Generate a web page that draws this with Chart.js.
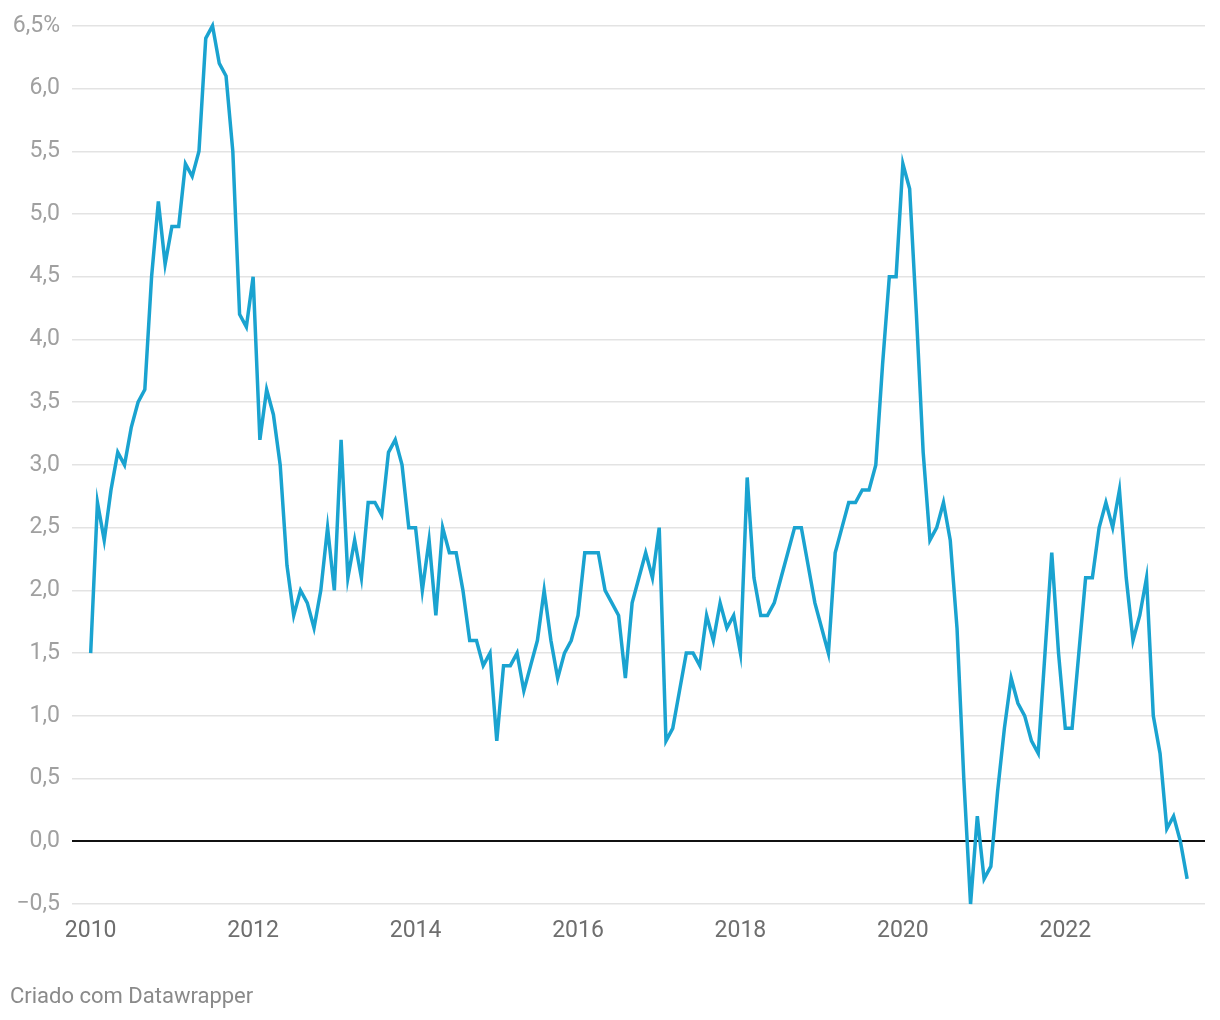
<!DOCTYPE html>
<html lang="pt">
<head>
  <meta charset="UTF-8" />
  <title>Inflação</title>
  <style>
    body { margin: 0; background: #fff; font-family: Roboto, sans-serif; }
    #wrap { position: relative; width: 1220px; height: 1020px; }
    #footer {
      position: absolute; left: 10px; top: 983px; line-height: 26px;
      color: #8a8a8a; font-size: 22px; font-family: Roboto, sans-serif;
    }
  </style>
</head>
<body>
  <div id="wrap">
    <canvas id="chart" width="1220" height="1020"></canvas>
    <div id="footer">Criado com Datawrapper</div>
  </div>

  <script src="https://cdn.jsdelivr.net/npm/chart.js"></script>
  <script>
    // série mensal, a partir de jan/2010
    const startYear = 2010;
    const v2010 = [1.5, 2.7, 2.4, 2.8, 3.1, 3.0, 3.3, 3.5, 3.6, 4.5, 5.1, 4.6];
    const v2011 = [4.9, 4.9, 5.4, 5.3, 5.5, 6.4, 6.5, 6.2, 6.1, 5.5, 4.2, 4.1];
    const v2012 = [4.5, 3.2, 3.6, 3.4, 3.0, 2.2, 1.8, 2.0, 1.9, 1.7, 2.0, 2.5];
    const v2013 = [2.0, 3.2, 2.1, 2.4, 2.1, 2.7, 2.7, 2.6, 3.1, 3.2, 3.0, 2.5];
    const v2014 = [2.5, 2.0, 2.4, 1.8, 2.5, 2.3, 2.3, 2.0, 1.6, 1.6, 1.4, 1.5];
    const v2015 = [0.8, 1.4, 1.4, 1.5, 1.2, 1.4, 1.6, 2.0, 1.6, 1.3, 1.5, 1.6];
    const v2016 = [1.8, 2.3, 2.3, 2.3, 2.0, 1.9, 1.8, 1.3, 1.9, 2.1, 2.3, 2.1];
    const v2017 = [2.5, 0.8, 0.9, 1.2, 1.5, 1.5, 1.4, 1.8, 1.6, 1.9, 1.7, 1.8];
    const v2018 = [1.5, 2.9, 2.1, 1.8, 1.8, 1.9, 2.1, 2.3, 2.5, 2.5, 2.2, 1.9];
    const v2019 = [1.7, 1.5, 2.3, 2.5, 2.7, 2.7, 2.8, 2.8, 3.0, 3.8, 4.5, 4.5];
    const v2020 = [5.4, 5.2, 4.2, 3.1, 2.4, 2.5, 2.7, 2.4, 1.7, 0.5, -0.5, 0.2];
    const v2021 = [-0.3, -0.2, 0.4, 0.9, 1.3, 1.1, 1.0, 0.8, 0.7, 1.5, 2.3, 1.5];
    const v2022 = [0.9, 0.9, 1.5, 2.1, 2.1, 2.5, 2.7, 2.5, 2.8, 2.1, 1.6, 1.8];
    const v2023 = [2.1, 1.0, 0.7, 0.1, 0.2, 0.0, -0.3];

    const xTicks = [2010, 2012, 2014, 2016, 2018, 2020, 2022];
    const yTicks = [-0.5, 0, 0.5, 1, 1.5, 2, 2.5, 3, 3.5, 4, 4.5, 5, 5.5, 6, 6.5];

    const values = [].concat(v2010, v2011, v2012, v2013, v2014, v2015, v2016,
                             v2017, v2018, v2019, v2020, v2021, v2022, v2023);
    const points = values.map((v, i) => ({ x: startYear + i / 12, y: v }));

    const ctx = document.getElementById('chart').getContext('2d');
    new Chart(ctx, {
      type: 'line',
      data: {
        datasets: [{
          data: points,
          borderColor: '#1aa3d0',
          borderWidth: 3.5,
          pointRadius: 0,
          tension: 0,
          clip: false
        }]
      },
      options: {
        responsive: false,
        animation: false,
        layout: { padding: { top: 24, right: 15, bottom: 76, left: 0 } },
        plugins: { legend: { display: false }, tooltip: { enabled: false } },
        scales: {
          x: {
            type: 'linear',
            min: 2009.77,
            max: 2023.72,
            afterBuildTicks: s => { s.ticks = xTicks.map(v => ({ value: v })); },
            afterFit: s => { s.height = 40; },
            grid: { display: false },
            border: { display: false },
            ticks: {
              padding: 5,
              color: '#6e6e6e',
              font: { family: 'Roboto', size: 23 },
              callback: v => String(v)
            }
          },
          y: {
            min: -0.5,
            max: 6.5,
            afterBuildTicks: s => { s.ticks = yTicks.map(v => ({ value: v })); },
            afterFit: s => { s.width = 72; },
            border: { display: false },
            grid: {
              drawTicks: false,
              color: c => c.tick.value === 0 ? '#111' : '#e3e3e3',
              lineWidth: c => c.tick.value === 0 ? 2 : 1.5
            },
            ticks: {
              padding: 12,
              color: '#a0a0a0',
              font: { family: 'Roboto', size: 23 },
              callback: v => {
                const t = (v < 0 ? '\u2212' : '') + Math.abs(v).toFixed(1).replace('.', ',');
                return v === 6.5 ? t + '%' : t;
              }
            }
          }
        }
      }
    });
  </script>
</body>
</html>
